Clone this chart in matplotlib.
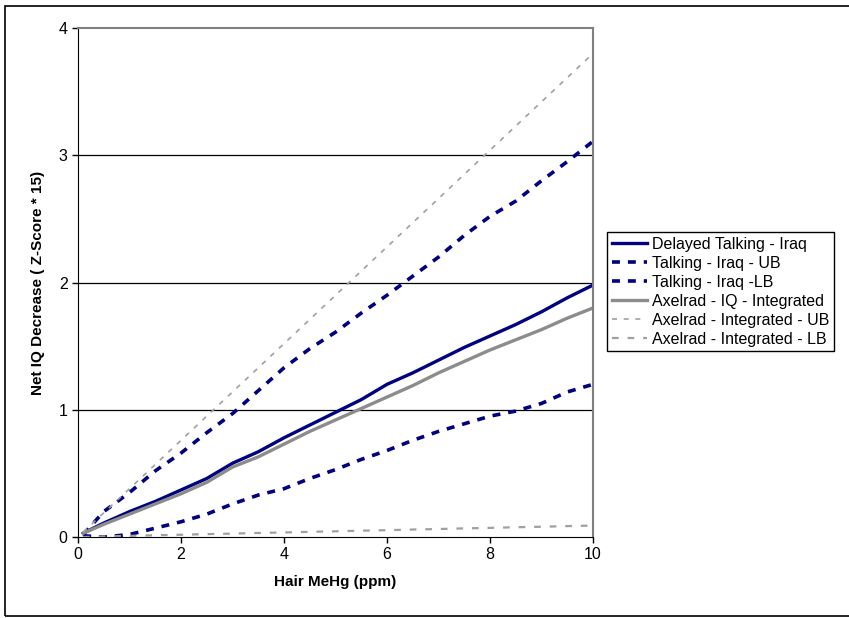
import numpy as np
import matplotlib
matplotlib.use('Agg')
import matplotlib.pyplot as plt
from matplotlib.patches import Rectangle

plt.rcParams['font.family'] = ['Liberation Sans', 'DejaVu Sans']

# values
hair = [0.1, 0.5, 1, 1.5, 2, 2.5, 3, 3.5, 4, 4.5, 5, 5.5, 6, 6.5, 7, 7.5, 8, 8.5, 9, 9.5, 10]
talk = [0.03, 0.11, 0.2, 0.28, 0.37, 0.46, 0.58, 0.67, 0.78, 0.88, 0.98, 1.08, 1.2, 1.29, 1.39, 1.49, 1.58, 1.67, 1.77, 1.88, 1.98]
talk_ub = [0.02, 0.2, 0.35, 0.52, 0.66, 0.82, 0.97, 1.15, 1.33, 1.48, 1.61, 1.76, 1.9, 2.05, 2.2, 2.37, 2.52, 2.64, 2.8, 2.95, 3.11]
talk_lb = [0.01, 0.0, 0.02, 0.07, 0.12, 0.18, 0.26, 0.33, 0.38, 0.46, 0.53, 0.61, 0.68, 0.76, 0.83, 0.89, 0.95, 0.99, 1.05, 1.14, 1.2]
axel = [0.03, 0.1, 0.18, 0.26, 0.34, 0.43, 0.55, 0.63, 0.73, 0.83, 0.92, 1.01, 1.1, 1.19, 1.29, 1.38, 1.47, 1.55, 1.63, 1.72, 1.8]
axel_ub = [0.04, 0.19, 0.38, 0.57, 0.76, 0.95, 1.14, 1.33, 1.52, 1.71, 1.9, 2.09, 2.28, 2.47, 2.66, 2.85, 3.04, 3.23, 3.42, 3.61, 3.8]
axel_lb = [0.0, 0.005, 0.009, 0.014, 0.018, 0.023, 0.027, 0.032, 0.036, 0.041, 0.045, 0.05, 0.054, 0.059, 0.063, 0.068, 0.072, 0.077, 0.081, 0.086, 0.09]

navy = '#000080'
grey = '#8c8c8c'

fig = plt.figure(figsize=(8.49, 6.18), dpi=100)
ax = fig.add_axes([0.0919, 0.131, 0.6066, 0.8237])

ax.plot(hair, talk, color=navy, lw=2.4, label='Delayed Talking - Iraq')
ax.plot(hair, talk_ub, color=navy, lw=2.6, dashes=(2.2, 2.2), label='Talking - Iraq - UB')
ax.plot(hair, talk_lb, color=navy, lw=2.6, dashes=(2.2, 2.2), label='Talking - Iraq -LB')
ax.plot(hair, axel, color=grey, lw=2.4, label='Axelrad - IQ - Integrated')
ax.plot(hair, axel_ub, color='#a0a0a0', lw=1.2, dashes=(3, 4), label='Axelrad - Integrated - UB')
ax.plot(hair, axel_lb, color='#a0a0a0', lw=1.6, dashes=(3, 4), label='Axelrad - Integrated - LB')

ax.set_xlim(0, 10)
ax.set_ylim(0, 4)
ax.set_xticks([0, 2, 4, 6, 8, 10])
ax.set_yticks([0, 1, 2, 3, 4])
ax.tick_params(direction='out', length=4, labelsize=11.5, width=1)
for y in [1, 2, 3]:
    ax.axhline(y, color='black', lw=0.9, zorder=0)
ax.spines['top'].set_color('#808080')
ax.spines['right'].set_color('#808080')
ax.spines['top'].set_linewidth(1.5)
ax.spines['right'].set_linewidth(1.5)
ax.set_xlabel('Hair MeHg (ppm)', fontweight='bold', fontsize=11, labelpad=9)
ax.set_ylabel('Net IQ Decrease ( Z-Score * 15)', fontweight='bold', fontsize=11, labelpad=10)

leg = ax.legend(loc='upper left', bbox_to_anchor=(0.715, 0.625), bbox_transform=fig.transFigure,
                fontsize=11.5, frameon=True, fancybox=False, framealpha=1, edgecolor='black',
                handlelength=2.2, handletextpad=0.3, labelspacing=0.25, borderaxespad=0,
                borderpad=0.3)
leg.get_frame().set_linewidth(1.0)

fig.patches.append(Rectangle((0.006, 0.003), 1.0, 0.987, transform=fig.transFigure,
                             fill=False, edgecolor='black', lw=1.2))

fig.savefig('out.png', dpi=100)
